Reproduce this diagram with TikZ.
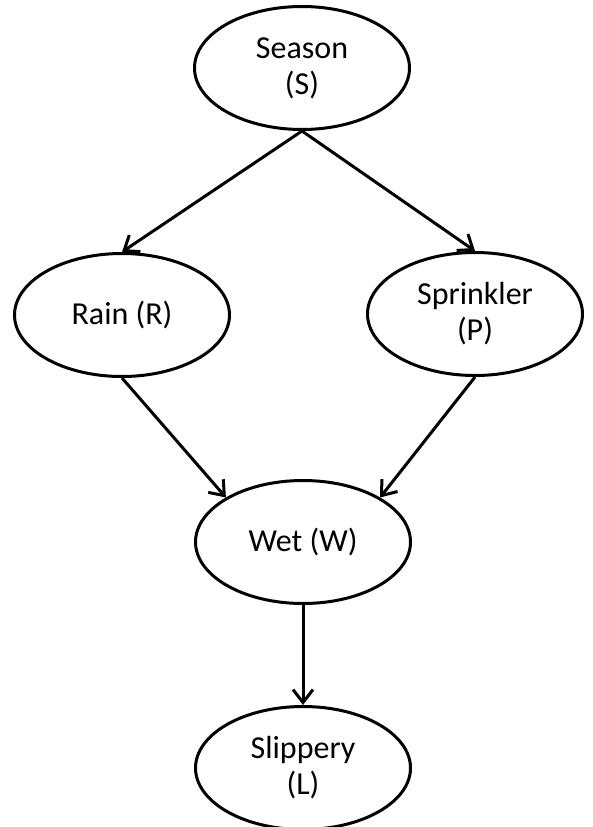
\documentclass[tikz,border=0pt]{standalone}
\usepackage{fontspec}
\setmainfont{Carlito}
\usetikzlibrary{arrows.meta,shapes.geometric}

\begin{document}
\begin{tikzpicture}[
  x=1pt, y=-1pt,
  var/.style={draw, ellipse, line width=3pt, minimum width=215pt,
              minimum height=123pt, inner sep=0pt, align=center,
              font=\fontsize{32}{36}\selectfont},
  dep/.style={-{Straight Barb[length=13pt,width=20pt]}, line width=3pt},
]
\useasboundingbox (0,0) rectangle (592,827);
\node[var] (s) at (302,68)  {Season\\(S)};
\node[var] (r) at (122,315) {Rain (R)};
\node[var] (p) at (475,314) {Sprinkler\\(P)};
\node[var] (w) at (303,542) {Wet (W)};
\node[var] (l) at (303,768) {Slippery\\(L)};

% season drives rain and sprinkler
\draw[dep] (s.south) -- (r.north);
\draw[dep] (s.south) -- (p.north);

% both make it wet
\draw[dep] (r.south) -- (w.150);
\draw[dep] (p.south) -- (w.30);

\draw[dep] (w.south) -- (l.north);
\end{tikzpicture}
\end{document}
